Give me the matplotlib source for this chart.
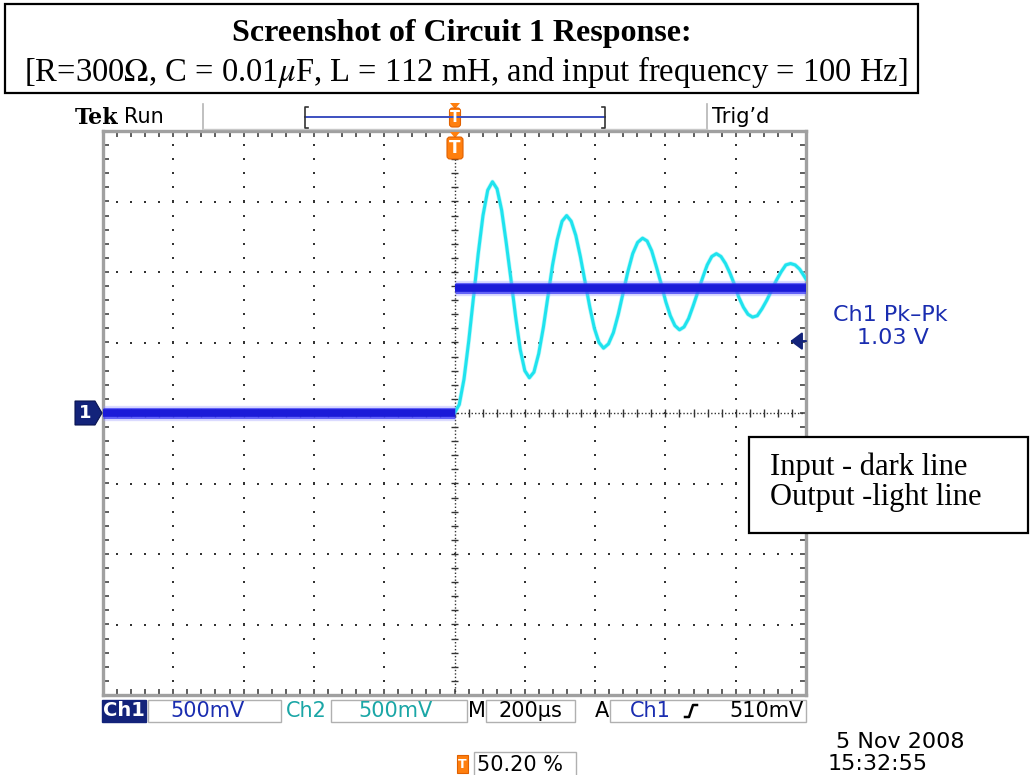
import numpy as np
import matplotlib.pyplot as plt
from matplotlib.patches import Rectangle, Polygon, FancyBboxPatch

# Scope settings: 200 us/div, 500 mV/div on both channels, trigger at centre
US_PER_DIV = 200
V_PER_DIV = 0.5

# Ch1 (input): flat before the trigger, stepped level after it (V)
input_levels = [0.0, 0.89]

# Ch2 (output): capacitor voltage after the step (time in us, volts)
output_time_us = [
    -1000, 0, 13.5, 27, 40.5, 54, 67.5, 81, 94.5, 108,
    121, 134, 147, 160.5, 174, 187, 200, 213,
    226, 239.5, 253, 266, 279, 292.5, 306, 319,
    332, 345, 358, 371.5, 385, 398, 411, 424,
    438, 452, 466, 479.5, 493, 507, 521, 535,
    548, 561, 574, 587.5, 601, 614, 627, 640,
    653, 666, 679, 692.5, 706, 719, 732, 745,
    758, 771, 784, 796.5, 809, 822, 835, 848,
    861.5, 875, 888.5, 902, 915.5, 929, 942.5, 956,
    969, 982, 995, 1000,
]
output_volts = [
    0.0, 0.0, 0.06, 0.24, 0.51, 0.82, 1.13, 1.40, 1.58, 1.64,
    1.59, 1.44, 1.21, 0.95, 0.68, 0.45, 0.30, 0.25,
    0.29, 0.42, 0.61, 0.83, 1.05, 1.23, 1.36, 1.40,
    1.36, 1.26, 1.11, 0.93, 0.75, 0.60, 0.50, 0.46,
    0.49, 0.57, 0.70, 0.85, 1.00, 1.13, 1.21, 1.24,
    1.22, 1.15, 1.04, 0.92, 0.79, 0.69, 0.62, 0.59,
    0.61, 0.67, 0.76, 0.86, 0.96, 1.05, 1.11, 1.13,
    1.11, 1.06, 0.99, 0.91, 0.82, 0.75, 0.70, 0.68,
    0.69, 0.74, 0.80, 0.87, 0.94, 1.00, 1.05, 1.06,
    1.05, 1.02, 0.97, 0.95,
]

trigger_level_v = 0.51

title_lines = [
    "Screenshot of Circuit 1 Response:",
    r"[R=300$\Omega$, C = 0.01$\mu$F, L = 112 mH, and input frequency = 100 Hz]",
]
legend_lines = ["Input - dark line", "Output -light line"]
measurement = ["Ch1 Pk\u2013Pk", "1.03 V"]
status = {"ch1": "500mV", "ch2": "500mV", "time": "200\u00b5s", "trig": "510mV"}
trigger_pos = "50.20 %"
stamp = ["5 Nov 2008", "15:32:55"]

SERIF = "Liberation Serif"
SCOPE = "DejaVu Sans"
NAVY = "#13237a"
CH1_BLUE = "#1a1ad8"
CH2_CYAN = "#1fe3ee"
TEXT_BLUE = "#1a2db0"
TEAL = "#1aa6a6"
ORANGE = "#ff7f0e"
SCOPE_FS = 15

plt.rcParams["mathtext.fontset"] = "stix"

fig = plt.figure(figsize=(10.3, 7.75), dpi=100)
W, H = 1030, 775

# graticule, in pixel extents of the figure
gx0, gx1, gy0, gy1 = 103, 806, 131, 695
ax = fig.add_axes([gx0 / W, 1 - gy1 / H, (gx1 - gx0) / W, (gy1 - gy0) / H])
ax.set_zorder(1)
xmax = 5 * US_PER_DIV
ymax = 4 * V_PER_DIV
ax.set_xlim(-xmax, xmax)
ax.set_ylim(-ymax, ymax)

for side in ax.spines.values():
    side.set_color("#a0a0a0")
    side.set_linewidth(2.4)
ax.set_xticks(np.arange(-xmax, xmax + 1, US_PER_DIV / 5))
ax.set_yticks(np.arange(-ymax, ymax + 0.001, V_PER_DIV / 5))
ax.tick_params(direction="in", length=4, width=1.1, color="#333333",
               top=True, right=True, labelbottom=False, labelleft=False)

# dotted graticule: a dot every fifth of a division along each line
minor_x = np.arange(-xmax, xmax + 1, US_PER_DIV / 5)
minor_y = np.arange(-ymax, ymax + 0.001, V_PER_DIV / 5)
for gx in np.arange(-xmax + US_PER_DIV, xmax, US_PER_DIV):
    if gx != 0:
        ax.scatter(np.full_like(minor_y, gx), minor_y, s=2.2, marker="s",
                   color="#333333", linewidths=0, zorder=1)
for gy in np.arange(-ymax + V_PER_DIV, ymax, V_PER_DIV):
    if abs(gy) > 1e-9:
        ax.scatter(minor_x, np.full_like(minor_x, gy), s=2.2, marker="s",
                   color="#333333", linewidths=0, zorder=1)

# centre cross-hair with small tick marks
ax.axvline(0, ls=(0, (1, 1.5)), lw=1.0, color="#333333", zorder=1)
ax.axhline(0, ls=(0, (1, 1.5)), lw=1.0, color="#333333", zorder=1)
ax.hlines(minor_y, -10, 10, lw=1.0, color="#333333", zorder=1)
ax.vlines(minor_x, -0.025, 0.025, lw=1.0, color="#333333", zorder=1)

# Ch2 output trace
ax.plot(output_time_us, output_volts, color="#8ff3f8", lw=3.2, alpha=0.6,
        zorder=3)
ax.plot(output_time_us, output_volts, color=CH2_CYAN, lw=2.2, zorder=3)

# Ch1 input trace: noisy band drawn as layered strokes
for seg_t, level in (([-xmax, 0], input_levels[0]), ([0, xmax], input_levels[1])):
    ax.plot(seg_t, [level, level], color="#9a9aff", lw=11, alpha=0.35,
            solid_capstyle="butt", zorder=4)
    ax.plot(seg_t, [level, level], color="#3a3af5", lw=8, alpha=0.75,
            solid_capstyle="butt", zorder=4)
    ax.plot(seg_t, [level, level], color=CH1_BLUE, lw=5.5,
            solid_capstyle="butt", zorder=5)

# trigger level arrow on the right edge
ax.annotate("", xy=(xmax - 45, trigger_level_v), xytext=(xmax, trigger_level_v),
            arrowprops=dict(arrowstyle="-|>,head_length=0.6,head_width=0.45",
                            color=NAVY, lw=1.5, mutation_scale=12,
                            shrinkA=0, shrinkB=0),
            annotation_clip=False, zorder=6)

# everything around the graticule lives on a pixel-space overlay
deco = fig.add_axes([0, 0, 1, 1])
deco.set_zorder(2)
deco.set_xlim(0, W)
deco.set_ylim(H, 0)
deco.axis("off")

# title box
deco.add_patch(Rectangle((5, 4), 913, 89, fill=False, ec="black", lw=1.6))
deco.text(462, 33, title_lines[0], family=SERIF, weight="bold", fontsize=23,
          ha="center", va="center")
deco.text(466, 72, title_lines[1], family=SERIF, fontsize=23.5,
          ha="center", va="center")

# header row
deco.text(75, 118, "Tek", family="DejaVu Serif", weight="bold", fontsize=16,
          ha="left", va="center")
deco.text(124, 117, "Run", family=SCOPE, fontsize=SCOPE_FS, ha="left", va="center")
deco.text(712, 117, "Trig\u2019d", family=SCOPE, fontsize=SCOPE_FS,
          ha="left", va="center")
for sx in (203, 707):
    deco.plot([sx, sx], [104, 129], color="#b5b5b5", lw=1.2)
deco.plot([203, 707], [129, 129], color="#c8c8c8", lw=1.0)

# record-view bracket with trigger marker
deco.plot([305, 605], [117, 117], color="#3c50c0", lw=1.4)
deco.plot([308, 305, 305, 308], [107, 107, 128, 128], color="#333333", lw=1.2)
deco.plot([602, 605, 605, 602], [107, 107, 128, 128], color="#333333", lw=1.2)


def trigger_mark(cx, top, h, w):
    deco.add_patch(Polygon([(cx - 5, top), (cx + 5, top), (cx, top + 6)],
                           closed=True, color=ORANGE, lw=0))
    deco.add_patch(FancyBboxPatch((cx - w / 2, top + 5), w, h,
                                  boxstyle="round,pad=0,rounding_size=3",
                                  fc=ORANGE, ec="#e06000", lw=0.8))
    deco.text(cx, top + 5 + h / 2, "T", color="white", weight="bold",
              family=SCOPE, fontsize=h * 0.55, ha="center", va="center")


trigger_mark(455, 103, 19, 11)
trigger_mark(455, 132, 22, 16)

# Ch1 ground marker
deco.add_patch(Polygon([(75, 401), (95, 401), (102, 413), (95, 425), (75, 425)],
                       closed=True, fc=NAVY, ec="#0a1450", lw=0.8))
deco.text(85, 413.5, "1", color="white", weight="bold", family=SCOPE,
          fontsize=13, ha="center", va="center")

# measurement readout
deco.text(890, 315, measurement[0], color=TEXT_BLUE, family=SCOPE,
          fontsize=16, ha="center", va="center")
deco.text(893, 338, measurement[1], color=TEXT_BLUE, family=SCOPE,
          fontsize=16, ha="center", va="center")

# trace legend box
deco.add_patch(Rectangle((749, 437), 279, 96, fc="white", ec="black", lw=1.6))
deco.text(770, 467, legend_lines[0], family=SERIF, fontsize=22,
          ha="left", va="center")
deco.text(770, 498, legend_lines[1], family=SERIF, fontsize=22,
          ha="left", va="center")

# status bar under the graticule
bar_y, bar_h = 700, 22
mid = bar_y + bar_h / 2
deco.add_patch(Rectangle((102, bar_y), 44, bar_h, fc=NAVY, ec=NAVY))
deco.text(124, mid, "Ch1", color="white", weight="bold",
          family=SCOPE, fontsize=14, ha="center", va="center")
for bx, bw in ((148, 133), (331, 136), (486, 89), (610, 196)):
    deco.add_patch(Rectangle((bx, bar_y), bw, bar_h, fc="white",
                             ec="#b0b0b0", lw=1.0))
deco.text(208, mid, status["ch1"], color=TEXT_BLUE, family=SCOPE,
          fontsize=SCOPE_FS, ha="center", va="center")
deco.text(286, mid, "Ch2", color=TEAL, family=SCOPE,
          fontsize=SCOPE_FS, ha="left", va="center")
deco.text(395, mid, status["ch2"], color=TEAL, family=SCOPE,
          fontsize=SCOPE_FS, ha="center", va="center")
deco.text(468, mid, "M", color="black", family=SCOPE,
          fontsize=SCOPE_FS, ha="left", va="center")
deco.text(530, mid, status["time"], color="black", family=SCOPE,
          fontsize=SCOPE_FS, ha="center", va="center")
deco.text(595, mid, "A", color="black", family=SCOPE,
          fontsize=SCOPE_FS, ha="left", va="center")
deco.text(630, mid, "Ch1", color=TEXT_BLUE, family=SCOPE,
          fontsize=SCOPE_FS, ha="left", va="center")
# rising-edge slope symbol
deco.plot([685, 689, 693, 697], [717, 717, 705, 705], color="black", lw=1.8)
deco.text(804, mid, status["trig"], color="black", family=SCOPE,
          fontsize=SCOPE_FS, ha="right", va="center")

# trigger position readout
deco.add_patch(Rectangle((457, 755), 11, 18, fc=ORANGE, ec="#e06000", lw=0.8))
deco.text(462.5, 764, "T", color="white", weight="bold", family=SCOPE,
          fontsize=9, ha="center", va="center")
deco.add_patch(Rectangle((474, 752), 102, 26, fc="white", ec="#b0b0b0", lw=1.0))
deco.text(477, 765, trigger_pos, color="black", family=SCOPE,
          fontsize=SCOPE_FS, ha="left", va="center")

# date/time stamp
deco.text(836, 742, stamp[0], color="black", family=SCOPE, fontsize=16,
          ha="left", va="center")
deco.text(828, 764, stamp[1], color="black", family=SCOPE, fontsize=16,
          ha="left", va="center")

fig.savefig("out.png", dpi=100)
